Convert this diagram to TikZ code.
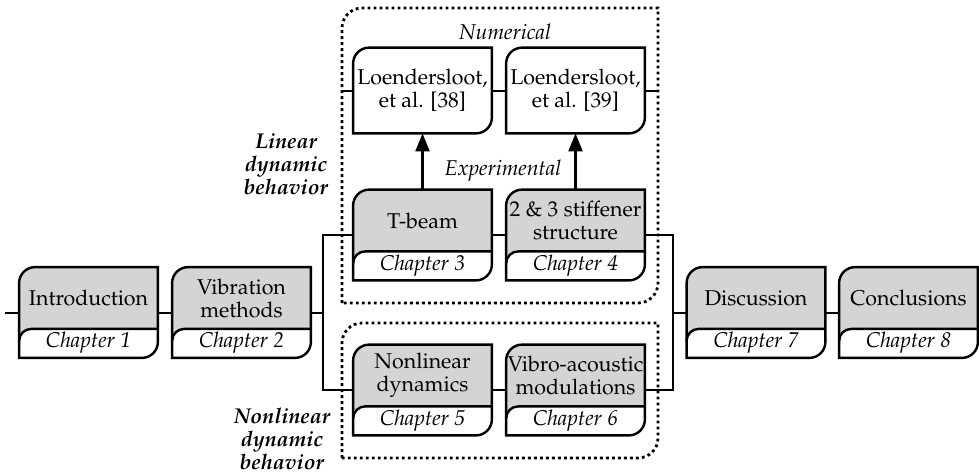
\documentclass[tikz,border=0pt]{standalone}
\usepackage[T1]{fontenc}
\usepackage{mathpazo}
\usetikzlibrary{arrows.meta, positioning, calc}

\definecolor{boxgray}{RGB}{211,212,214}

% outline: rounded top left and bottom right
\newcommand{\boxpath}[1]{(#1.south west) -- ([yshift=-8pt]#1.north west) arc[start angle=180, end angle=90, radius=8pt] -- (#1.north east) -- ([yshift=8pt]#1.south east) arc[start angle=0, end angle=-90, radius=8pt] -- cycle}

% chapter box: name, position, title, chapter
\newcommand{\chapbox}[4]{%
    \node[boxarea] (#1) at (#2) {};
    \fill[white] \boxpath{#1};
    \fill[boxgray] ([yshift=-8pt]#1.north west) arc[start angle=180, end angle=90, radius=8pt] -- (#1.north east) -- ([yshift=14.5pt]#1.south east) -- ([xshift=6pt, yshift=14.5pt]#1.south west) arc[start angle=90, end angle=180, radius=6pt] -- cycle;
    \draw[boxline] ([yshift=14.5pt]#1.south east) -- ([xshift=6pt, yshift=14.5pt]#1.south west) arc[start angle=90, end angle=180, radius=6pt];
    \draw[boxline] \boxpath{#1};
    \node[titletext] at ([yshift=7.25pt]#1.center) {#3};
    \node[chaptext] at ([yshift=-15.25pt]#1.center) {#4};
}

\begin{document}
\begin{tikzpicture}[
        x=0.5pt, y=0.5pt,
        boxarea/.style={minimum width=69pt, minimum height=45pt, inner sep=0pt},
        febox/.style={minimum width=69pt, minimum height=42.5pt, inner sep=0pt, align=center, font=\fontsize{10.7}{11.5}\selectfont},
        boxline/.style={line width=1.2pt},
        titletext/.style={align=center, inner sep=0pt, font=\fontsize{10.7}{11.5}\selectfont},
        chaptext/.style={inner sep=0pt, font=\fontsize{10.7}{11.5}\selectfont\itshape},
        grouplabel/.style={align=center, font=\fontsize{10.7}{11.5}\selectfont\bfseries\itshape},
        link/.style={line width=1pt},
        arrow/.style={-{Triangle[length=9pt, width=7pt]}, line width=1.1pt},
        frame/.style={line width=1.4pt, dash pattern=on 1.4pt off 1.6pt}
    ]
        \useasboundingbox (0,0) rectangle (979,-473);

        % dotted groups
        \draw[frame] (342,-303) -- (342,-28) arc[start angle=180, end angle=90, radius=10pt] -- (658,-8) -- (658,-283) arc[start angle=0, end angle=-90, radius=10pt] -- cycle;
        \draw[frame] (342,-458) -- (342,-343) arc[start angle=180, end angle=90, radius=10pt] -- (658,-323) -- (658,-438) arc[start angle=0, end angle=-90, radius=10pt] -- cycle;

        % chapters
        \chapbox{intro}{88.5,-312.5}{Introduction}{Chapter 1}
        \chapbox{vib}{241.5,-312.5}{Vibration\\methods}{Chapter 2}
        \chapbox{tbeam}{422.5,-235}{T-beam}{Chapter 3}
        \chapbox{stiff}{575.5,-235}{2 \& 3 stiffener\\structure}{Chapter 4}
        \chapbox{nld}{422.5,-390}{Nonlinear\\dynamics}{Chapter 5}
        \chapbox{vam}{575.5,-390}{Vibro-acoustic\\modulations}{Chapter 6}
        \chapbox{disc}{756,-312.5}{Discussion}{Chapter 7}
        \chapbox{concl}{908.5,-312.5}{Conclusions}{Chapter 8}

        % numerical
        \node[febox] (fe38) at (422.5,-90.5) {Loendersloot,\\et al. [38]};
        \node[febox] (fe39) at (575.5,-90.5) {Loendersloot,\\et al. [39]};
        \draw[boxline] \boxpath{fe38};
        \draw[boxline] \boxpath{fe39};

        \node[font=\fontsize{10.7}{11.5}\selectfont\itshape] (num) at (505,-32) {Numerical};
        \node[font=\fontsize{10.7}{11.5}\selectfont\itshape] (exp) at (503,-171) {Experimental};

        \node[grouplabel] (linlab) at (286,-164) {Linear\\dynamic\\behavior};
        \node[grouplabel] (nonlab) at (282,-439) {Nonlinear\\dynamic\\behavior};

        % connectors
        \coordinate (entry) at (5,-312.5);
        \coordinate (jl) at ($(vib.east)+(6pt,0)$);
        \coordinate (jr) at ($(disc.west)+(-7pt,0)$);
        \coordinate (numl) at (342,-90.5);
        \coordinate (numr) at (658,-90.5);

        \draw[link] (entry) -- (intro.west);
        \draw[link] (intro.east) -- (vib.west);
        \draw[link] (vib.east) -- (jl);
        \draw[link] (tbeam.west) -| (jl) |- (nld.west);
        \draw[link] (tbeam.east) -- (stiff.west);
        \draw[link] (nld.east) -- (vam.west);
        \draw[link] (stiff.east) -| (jr) |- (vam.east);
        \draw[link] (jr) -- (disc.west);
        \draw[link] (disc.east) -- (concl.west);
        \draw[link] (numl) -- (fe38.west);
        \draw[link] (fe38.east) -- (fe39.west);
        \draw[link] (fe39.east) -- (numr);

        \draw[arrow] (tbeam.north) -- (fe38.south);
        \draw[arrow] (stiff.north) -- (fe39.south);

    \end{tikzpicture}
\end{document}
